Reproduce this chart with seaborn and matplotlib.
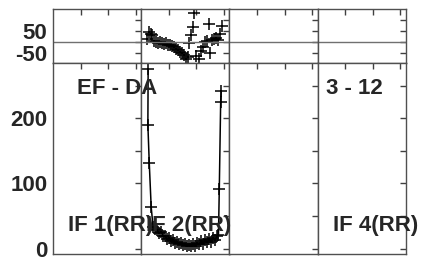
import matplotlib
matplotlib.use("Agg")
import matplotlib.pyplot as plt
import seaborn as sns
import pandas as pd

# time axis in units of one column (each column spans 0..3.2)
rr_x = [0.25, 0.24, 0.29, 0.36, 0.43, 0.51, 0.58, 0.65, 0.72, 0.80, 0.87, 0.94,
        1.01, 1.09, 1.16, 1.23, 1.30, 1.38, 1.45, 1.52, 1.59, 1.67, 1.74, 1.81,
        1.88, 1.96, 2.03, 2.10, 2.17, 2.25, 2.32, 2.39, 2.46, 2.54, 2.61, 2.68,
        2.75, 2.80, 2.83, 2.88, 2.90]
rr_val = [275, 190, 132, 64, 33, 30, 28, 24, 26, 20, 19, 15, 17, 12, 13, 9,
          11, 8, 9, 6, 7, 4, 6, 5, 8, 4, 9, 7, 12, 8, 13, 10, 15, 11, 16, 14,
          19, 21, 92, 225, 241]

ef_x = [0.22, 0.29, 0.36, 0.40, 0.47, 0.54, 0.62, 0.69, 0.76, 0.83, 0.91, 0.98,
        1.05, 1.12, 1.20, 1.27, 1.34, 1.41, 1.49, 1.56, 1.63, 1.70, 1.74, 1.81,
        1.88, 1.92, 1.99, 2.10, 2.17, 2.25, 2.32, 2.39, 2.46, 2.50, 2.57, 2.64,
        2.72, 2.79, 2.86, 2.93]
ef_val = [11, 43, 38, 30, 5, 0, -3, -2, -5, -8, -6, -12, -15, -20, -25, -33,
          -38, -45, -52, -62, -76, -70, -5, 30, 68, 134, -65, -76, -40, -23,
          0, 5, 80, -53, 8, 15, 18, 10, 38, 71]

top_yticks = [-50, 0, 50, 100]
top_ylabels = ["-50", "", "50", ""]
bot_yticks = [0, 50, 100, 150, 200, 250]
bot_ylabels = ["0", "", "100", "", "200", ""]
col_xticks = [1, 2, 3]

sns.set_style("white")
plt.rcParams["font.family"] = ["Liberation Sans", "DejaVu Sans"]
plt.rcParams["font.weight"] = "bold"

fig = plt.figure(figsize=(4.26, 2.57), dpi=100)
gs = fig.add_gridspec(2, 4, height_ratios=[53.7, 191.3], wspace=0, hspace=0,
                      left=53 / 426, right=406 / 426, top=1 - 9 / 257, bottom=1 - 254 / 257)

df_rr = pd.DataFrame({"t": rr_x, "v": rr_val})
df_ef = pd.DataFrame({"t": ef_x, "v": ef_val})

for row in range(2):
    for col in range(4):
        ax = fig.add_subplot(gs[row, col])
        if row == 0:
            ax.axhline(0, color="#707070", lw=1)
            ax.set_ylim(-95, 150)
            ax.set_yticks(top_yticks)
            ax.set_yticklabels(top_ylabels if col == 0 else [])
            if col == 1:
                sns.scatterplot(data=df_ef, x="t", y="v", marker="+", s=80,
                                color="black", linewidth=1.1, ax=ax, legend=False)
        else:
            ax.set_ylim(-8, 285)
            ax.set_yticks(bot_yticks)
            ax.set_yticklabels(bot_ylabels if col == 0 else [])
            if col == 1:
                sns.lineplot(data=df_rr, x="t", y="v", sort=False, estimator=None,
                             marker="+", markersize=9, markeredgewidth=1.1,
                             markeredgecolor="black", color="black",
                             linewidth=1.1, ax=ax)
        ax.set_xlim(0, 3.2)
        ax.set_xticks(col_xticks)
        ax.set_xticklabels([])
        ax.set_xlabel("")
        ax.set_ylabel("")
        ax.tick_params(direction="in", length=4, width=1, color="#404040",
                       top=True, right=True, labelsize=16, pad=4)
        for s in ax.spines.values():
            s.set_color("#505050")
            s.set_linewidth(1)

txt = dict(fontsize=16, fontweight="bold", va="center", ha="left")
fig.text(77 / 426, 1 - 88 / 257, "EF - DA", **txt)
fig.text(326 / 426, 1 - 88 / 257, "3 - 12", **txt)
fig.text(68 / 426, 1 - 225 / 257, "IF 1(RR)", **txt)
fig.text(146 / 426, 1 - 225 / 257, "IF 2(RR)", **txt)
fig.text(333 / 426, 1 - 225 / 257, "IF 4(RR)", **txt)

fig.savefig("out.png", dpi=100)
